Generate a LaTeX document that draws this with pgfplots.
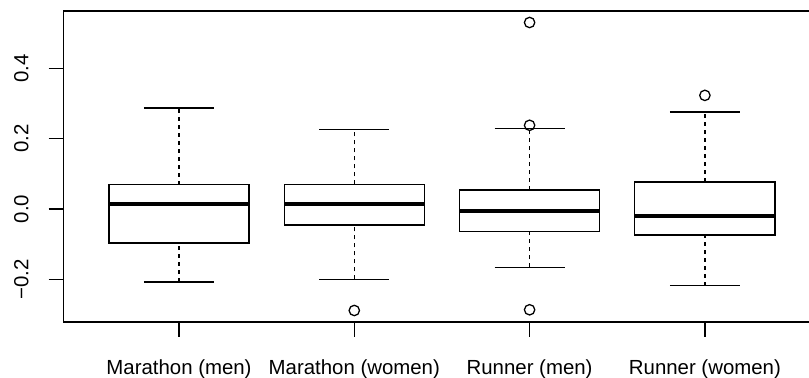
\documentclass[border=0pt]{standalone}
\usepackage{pgfplots}
\pgfplotsset{compat=1.18}
\usepgfplotslibrary{statistics}
\usepackage{fontspec}
\setmainfont{Liberation Sans}
\begin{document}
\fontsize{10.2}{12}\selectfont
\begin{tikzpicture}
\begin{axis}[
  at={(0,0)}, anchor=south west,
  scale only axis, width=378.65pt, height=155.5pt,
  xmin=0.34, xmax=4.66, ymin=-0.3207, ymax=0.5627,
  xtick={1,2,3,4},
  xticklabels={Marathon (men),Marathon (women),Runner (men),Runner (women)},
  ytick={-0.2,0,0.2,0.4},
  yticklabels={−0.2,0.0,0.2,0.4},
  xtick pos=bottom, ytick pos=left,
  tick align=outside, major tick length=7.3pt,
  tick style={black, line width=0.64pt},
  axis line style={black, line width=0.64pt},
  ticklabel style={font=\fontsize{10.2}{12}\selectfont},
  xticklabel style={yshift=-8pt},
  yticklabel style={rotate=90, anchor=south, yshift=6.5pt},
  clip=false,
  boxplot/draw direction=y,
  boxplot/box extend=0.8,
  boxplot/whisker extend=0.4,
  boxplot/every box/.style={black, line width=0.64pt},
  boxplot/every median/.style={black, line width=1.9pt},
  boxplot/draw/lower whisker/.code={
    \draw[black, line width=0.64pt, dash pattern=on 2pt off 2pt]
      (boxplot cs:\pgfplotsboxplotvalue{lower whisker}) -- (boxplot cs:\pgfplotsboxplotvalue{lower quartile});
    \draw[black, line width=0.64pt]
      (boxplot whisker cs:\pgfplotsboxplotvalue{lower whisker},0) -- (boxplot whisker cs:\pgfplotsboxplotvalue{lower whisker},1);
  },
  boxplot/draw/upper whisker/.code={
    \draw[black, line width=0.64pt, dash pattern=on 2pt off 2pt]
      (boxplot cs:\pgfplotsboxplotvalue{upper quartile}) -- (boxplot cs:\pgfplotsboxplotvalue{upper whisker});
    \draw[black, line width=0.64pt]
      (boxplot whisker cs:\pgfplotsboxplotvalue{upper whisker},0) -- (boxplot whisker cs:\pgfplotsboxplotvalue{upper whisker},1);
  },
]
% Marathon (men)
\addplot[black, mark=o, mark size=2.6pt, mark options={solid, line width=0.64pt},
  boxplot prepared={draw position=1, lower whisker=-0.207, lower quartile=-0.096,
    median=0.014, upper quartile=0.069, upper whisker=0.287}]
  coordinates {};
% Marathon (women)
\addplot[black, mark=o, mark size=2.6pt, mark options={solid, line width=0.64pt},
  boxplot prepared={draw position=2, lower whisker=-0.200, lower quartile=-0.045,
    median=0.015, upper quartile=0.070, upper whisker=0.227}]
  table[row sep=\\, y index=0] {-0.288\\};
% Runner (men)
\addplot[black, mark=o, mark size=2.6pt, mark options={solid, line width=0.64pt},
  boxplot prepared={draw position=3, lower whisker=-0.165, lower quartile=-0.064,
    median=-0.005, upper quartile=0.054, upper whisker=0.228}]
  table[row sep=\\, y index=0] {0.530\\0.238\\-0.286\\};
% Runner (women)
\addplot[black, mark=o, mark size=2.6pt, mark options={solid, line width=0.64pt},
  boxplot prepared={draw position=4, lower whisker=-0.218, lower quartile=-0.074,
    median=-0.019, upper quartile=0.077, upper whisker=0.276}]
  table[row sep=\\, y index=0] {0.323\\};
\end{axis}
\pgfresetboundingbox
\path[use as bounding box] (-31.65pt,-28pt) rectangle (372.85pt,161pt);
\end{tikzpicture}
\end{document}
